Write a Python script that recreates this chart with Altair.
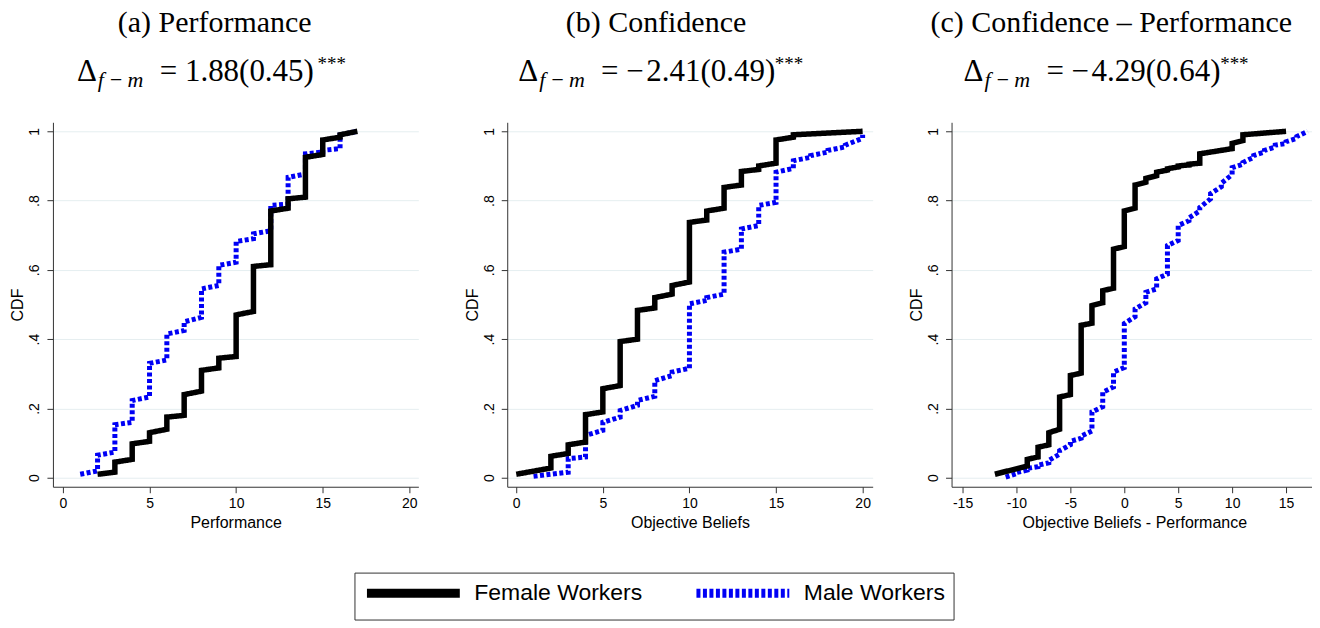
import altair as alt
import pandas as pd

GROUPS = ["Female Workers", "Male Workers"]
COLORS = ["#000000", "#0000f5"]
DASHES = [[1, 0], [4, 2.5]]

# ---- Panel (a) Performance ----
a_f_x = [2, 3, 4, 5, 6, 7, 8, 9, 10, 11, 12, 13, 14, 15, 16, 17]
a_f_lo = [0.01, 0.016, 0.053, 0.105, 0.14, 0.18, 0.25, 0.317, 0.35, 0.48, 0.615, 0.778, 0.81, 0.933, 0.983, 1.0]
a_f_hi = [0.01, 0.045, 0.098, 0.13, 0.175, 0.24, 0.31, 0.345, 0.47, 0.61, 0.77, 0.805, 0.925, 0.975, 0.99, 1.0]
a_m_x = [1, 2, 3, 4, 5, 6, 7, 8, 9, 10, 11, 12, 13, 14, 15, 16, 17]
a_m_lo = [0.01, 0.02, 0.074, 0.16, 0.233, 0.34, 0.425, 0.463, 0.555, 0.622, 0.69, 0.713, 0.79, 0.877, 0.94, 0.95, 1.0]
a_m_hi = [0.01, 0.065, 0.153, 0.223, 0.33, 0.415, 0.45, 0.545, 0.613, 0.682, 0.704, 0.786, 0.867, 0.935, 0.945, 0.99, 1.0]

# ---- Panel (b) Confidence ----
b_f_x = [0, 2, 3, 4, 5, 6, 7, 8, 9, 10, 11, 12, 13, 14, 15, 16, 20]
b_f_lo = [0.01, 0.028, 0.07, 0.103, 0.19, 0.266, 0.40, 0.49, 0.53, 0.565, 0.744, 0.778, 0.845, 0.89, 0.908, 0.983, 1.0]
b_f_hi = [0.01, 0.062, 0.095, 0.182, 0.257, 0.393, 0.483, 0.52, 0.555, 0.737, 0.77, 0.838, 0.884, 0.9, 0.975, 0.99, 1.0]
b_m_x = [1, 3, 4, 5, 6, 7, 8, 9, 10, 11, 12, 13, 14, 15, 16, 17, 18, 19, 20]
b_m_lo = [0.004, 0.016, 0.06, 0.137, 0.175, 0.209, 0.235, 0.295, 0.316, 0.512, 0.53, 0.66, 0.728, 0.795, 0.893, 0.925, 0.94, 0.955, 0.98]
b_m_hi = [0.004, 0.055, 0.122, 0.16, 0.194, 0.223, 0.28, 0.305, 0.502, 0.52, 0.651, 0.718, 0.786, 0.882, 0.915, 0.93, 0.945, 0.96, 0.99]

# ---- Panel (c) Confidence - Performance ----
c_f_x = [-12, -9, -8, -7, -6, -5, -4, -3, -2, -1, 0, 1, 2, 3, 4, 5, 6, 7, 10, 11, 15]
c_f_lo = [0.01, 0.034, 0.06, 0.095, 0.14, 0.24, 0.302, 0.446, 0.505, 0.547, 0.667, 0.778, 0.853, 0.872, 0.888, 0.897, 0.903, 0.908, 0.95, 0.973, 1.0]
c_f_hi = [0.01, 0.053, 0.088, 0.13, 0.233, 0.295, 0.44, 0.497, 0.54, 0.66, 0.77, 0.845, 0.864, 0.882, 0.892, 0.90, 0.905, 0.935, 0.965, 0.99, 1.0]
c_m_x = [-11, -10, -9, -8, -7, -6, -5, -4, -3, -2, -1, 0, 1, 2, 3, 4, 5, 6, 7, 8, 9, 10, 11, 12, 13, 14, 15, 16, 17]
c_m_lo = [0.002, 0.012, 0.022, 0.032, 0.043, 0.068, 0.095, 0.114, 0.135, 0.205, 0.262, 0.318, 0.465, 0.505, 0.545, 0.588, 0.685, 0.742, 0.77, 0.805, 0.84, 0.875, 0.905, 0.925, 0.94, 0.955, 0.965, 0.98, 1.0]
c_m_hi = [0.002, 0.015, 0.027, 0.036, 0.05, 0.078, 0.105, 0.12, 0.19, 0.247, 0.305, 0.445, 0.487, 0.535, 0.574, 0.67, 0.728, 0.75, 0.78, 0.82, 0.85, 0.895, 0.91, 0.93, 0.945, 0.96, 0.97, 0.985, 1.0]

y_ticks = [0, 0.2, 0.4, 0.6, 0.8, 1]
ab_x_ticks = [0, 5, 10, 15, 20]
c_x_ticks = [-15, -10, -5, 0, 5, 10, 15]

titles = ["(a) Performance", "(b) Confidence", "(c) Confidence \u2013 Performance"]
eqs = ["=  1.88(0.45)", "=  \u2212\u200a2.41(0.49)", "=  \u2212\u200a4.29(0.64)"]
x_titles = ["Performance", "Objective Beliefs", "Objective Beliefs - Performance"]

W, H = 366, 365
SERIF = "Liberation Serif"
SANS = "Liberation Sans"


def steps(xs, lo, hi, grp):
    rows = []
    k = 0
    for x, l, h in zip(xs, lo, hi):
        rows.append({"x": x, "y": l, "grp": grp, "ord": k})
        k += 1
        if h != l:
            rows.append({"x": x, "y": h, "grp": grp, "ord": k})
            k += 1
    return pd.DataFrame(rows)


def txt(t, x, y, size, style="normal", align="left", font=SERIF):
    return alt.Chart(pd.DataFrame({"t": [t]})).mark_text(
        font=font, fontSize=size, fontStyle=style, align=align,
        baseline="alphabetic", color="black"
    ).encode(x=alt.value(x), y=alt.value(y), text="t:N")


# legend sample: a 93px horizontal stroke (path in unit box, scaled by sqrt(256)/2 = 8)
LEG = alt.Legend(
    orient="none", legendX=302, legendY=451, direction="horizontal",
    title=None, symbolType="M-1,0H10.625", symbolSize=256, symbolStrokeWidth=9,
    labelFont=SANS, labelFontSize=23, labelOffset=87, columnPadding=35,
    padding=8, strokeColor="#333333", fillColor="white", labelLimit=400,
    labelExpr="datum.value == 'Male Workers' ? datum.label + '\u00a0\u00a0\u00a0\u00a0\u00a0\u00a0\u00a0' : datum.label",
)


def panel(fx, flo, fhi, mx, mlo, mhi, xdom, xticks, xtitle, title, eq,
          tcx, dx, eqx, starx):
    xenc = alt.X("x:Q", scale=alt.Scale(domain=xdom, nice=False, zero=False),
                 axis=alt.Axis(values=xticks, title=xtitle, grid=False,
                               labelExpr="datum.value + ''"))
    yenc = alt.Y("y:Q", scale=alt.Scale(domain=[-0.026, 1.026], nice=False, zero=False),
                 axis=alt.Axis(values=y_ticks, title="CDF", grid=True, labelAngle=270,
                               labelExpr="datum.value == 0 ? '0' : datum.value == 1 ? '1' : replace(format(datum.value, '.1f'), '0.', '.')"))

    def line(df, width):
        return alt.Chart(df).mark_line(strokeCap="butt", strokeJoin="miter",
                                       strokeWidth=width).encode(
            x=xenc, y=yenc,
            color=alt.Color("grp:N", scale=alt.Scale(domain=GROUPS, range=COLORS), legend=LEG),
            strokeDash=alt.StrokeDash("grp:N", scale=alt.Scale(domain=GROUPS, range=DASHES), legend=LEG),
            order="ord:Q")

    male = line(steps(mx, mlo, mhi, GROUPS[1]), 5)
    female = line(steps(fx, flo, fhi, GROUPS[0]), 5.5)
    layers = [male, female,
              txt(title, tcx, -90, 30, align="center"),
              txt("\u0394", dx, -41, 31),
              txt("f\u2009\u2212\u2009m", dx + 21, -35, 22, style="italic"),
              txt(eq, eqx, -41, 31),
              txt("***", starx, -52, 19)]
    return alt.layer(*layers).properties(width=W, height=H)


pa = panel(a_f_x, a_f_lo, a_f_hi, a_m_x, a_m_lo, a_m_hi, [-0.576, 20.52], ab_x_ticks,
           x_titles[0], titles[0], eqs[0], 162, 24, 107, 265)
pb = panel(b_f_x, b_f_lo, b_f_hi, b_m_x, b_m_lo, b_m_hi, [-0.52, 20.58], ab_x_ticks,
           x_titles[1], titles[1], eqs[1], 149, 11, 94, 268)
pc = panel(c_f_x, c_f_lo, c_f_hi, c_m_x, c_m_lo, c_m_hi, [-16.02, 17.87], c_x_ticks,
           x_titles[2], titles[2], eqs[2], 160, 12, 95, 269)

chart = alt.hconcat(pa, alt.hconcat(pb, pc, spacing=35), spacing=46).properties(
    padding={"left": 2, "top": 0, "right": -6, "bottom": 0}
).configure_view(stroke=None).configure_axis(
    labelFont=SANS, titleFont=SANS, labelFontSize=14, titleFontSize=16,
    titleFontWeight="normal", labelColor="black", titleColor="black",
    domainColor="#333333", tickColor="#333333", tickSize=6, labelPadding=4,
    titlePadding=4, gridColor="#e5eef0", gridWidth=1
).configure_axisY(labelPadding=5, titlePadding=2)

chart.save("out.html", embed_options={"renderer": "svg", "actions": False})
